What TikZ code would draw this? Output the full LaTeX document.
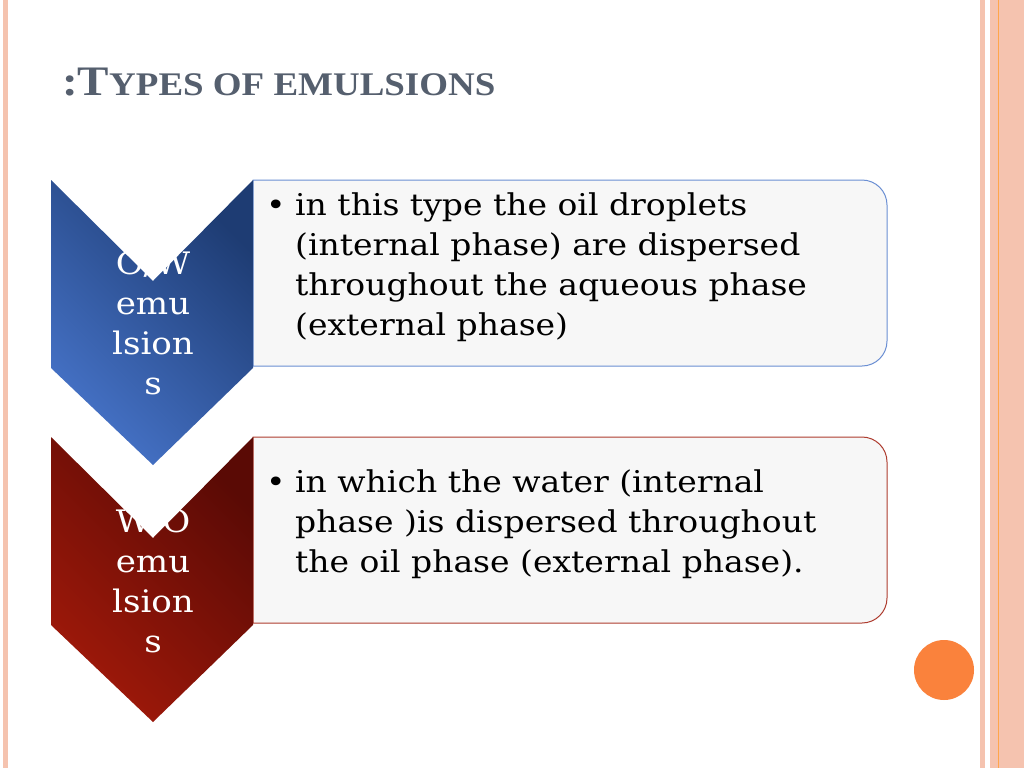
\documentclass[tikz,border=0pt]{standalone}
\usepackage{fontspec}
\setmainfont{DejaVu Serif}[FakeStretch=1.1]
\newfontfamily\titlefont{Liberation Serif}[FakeStretch=1.12]
\usetikzlibrary{shadings}
\definecolor{bluedark}{RGB}{30,60,115}
\definecolor{bluelight}{RGB}{70,115,200}
\definecolor{reddark}{RGB}{90,10,5}
\definecolor{redlight}{RGB}{160,25,10}
\definecolor{salmon}{RGB}{245,195,175}
\definecolor{titlegray}{RGB}{85,95,110}
\definecolor{ballorange}{RGB}{250,130,60}
\begin{document}
\begin{tikzpicture}[x=1pt,y=-1pt,
  box/.style={line width=1pt,fill=gray!6},
  chevtext/.style={text=white,align=center,font=\fontsize{31}{40}\selectfont,inner sep=0},
  bodytext/.style={anchor=north west,align=left,font=\fontsize{30}{40}\selectfont,inner sep=0}]
\useasboundingbox (0,0) rectangle (1024,768);
\fill[white] (0,0) rectangle (1024,768);
% borders
\fill[salmon] (3,0) rectangle (8,768);
\fill[salmon] (980,0) rectangle (985,768);
\fill[salmon] (990,0) rectangle (1024,768);
\draw[orange!70,line width=1pt] (998,0) -- (998,768);
% title
\node[anchor=base west,text=titlegray,inner sep=0,font=\titlefont\bfseries\fontsize{42}{44}\selectfont] (title) at (62,95) {:T\fontsize{33}{34}\selectfont YPES OF EMULSIONS};
% boxes
\draw[box,draw=bluelight!80] (253,366) -- (253,180) [rounded corners=25pt] -- (887,180) -- (887,366) [sharp corners] -- cycle;
\draw[box,draw=redlight!85] (253,623) -- (253,437) [rounded corners=25pt] -- (887,437) -- (887,623) [sharp corners] -- cycle;
% chevrons
\shade[left color=bluelight,right color=bluedark,shading angle=135] (51,180) -- (153,281) -- (253,180) -- (253,368) -- (153,465) -- (51,368) -- cycle;
\shade[left color=redlight,right color=reddark,shading angle=135] (51,437) -- (153,538) -- (253,437) -- (253,625) -- (153,722) -- (51,625) -- cycle;
\node[chevtext] (c1) at (153,323) {O/W\\emu\\lsion\\s};
\node[chevtext] (c2) at (153,581) {W/O\\emu\\lsion\\s};
% body
\node[bodytext] (t1) at (266,193) {\makebox[29pt][l]{•}\parbox[t]{560pt}{in this type the oil droplets\\(internal phase) are dispersed\\throughout the aqueous phase\\(external phase)}};
\node[bodytext] (t2) at (266,469) {\makebox[29pt][l]{•}\parbox[t]{560pt}{in which the water (internal\\phase )is dispersed throughout\\the oil phase (external phase).}};
% orange circle
\fill[ballorange] (944,670) circle (30);
\end{tikzpicture}
\end{document}
